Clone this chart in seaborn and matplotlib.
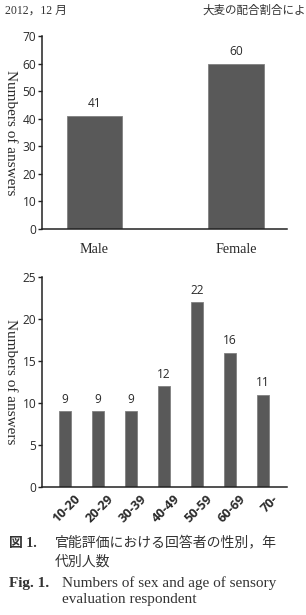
import matplotlib
matplotlib.use("Agg")
import matplotlib.pyplot as plt
import matplotlib.transforms as mtransforms
import seaborn as sns
import pandas as pd

sex_labels = ["Male", "Female"]
sex_counts = [41, 60]
age_labels = ["10-20", "20-29", "30-39", "40-49", "50-59", "60-69", "70-"]
age_counts = [9, 9, 9, 12, 22, 16, 11]

sns.set_style("white")
plt.rcParams['font.family'] = ['Open Sans', 'DejaVu Sans']

BAR = "#595959"
SERIF = ['Liberation Serif', 'DejaVu Serif']
JP = ['Liberation Serif', 'Noto Sans CJK JP']
TXT = "#2a2a2a"

fig = plt.figure(figsize=(3.06, 6.15), dpi=100)

ax1 = fig.add_axes([0.137, 0.6276, 0.801, 0.3138])
ax2 = fig.add_axes([0.137, 0.2081, 0.801, 0.3415])

df1 = pd.DataFrame({"sex": sex_labels, "n": sex_counts})
df2 = pd.DataFrame({"age": age_labels, "n": age_counts})

sns.barplot(data=df1, x="sex", y="n", ax=ax1, color=BAR, width=0.39,
            edgecolor="#808080", linewidth=0.6, saturation=1)
sns.barplot(data=df2, x="age", y="n", ax=ax2, color=BAR, width=0.38,
            edgecolor="#808080", linewidth=0.6, saturation=1)

for ax, ymax, step in [(ax1, 70, 10), (ax2, 25, 5)]:
    ax.set_ylim(0, ymax)
    ax.set_yticks(range(0, ymax + 1, step))
    for s in ["top", "right"]:
        ax.spines[s].set_visible(False)
    for s in ["left", "bottom"]:
        ax.spines[s].set_color("#222222")
        ax.spines[s].set_linewidth(1.1)
    ax.tick_params(axis="y", direction="out", length=3, width=1, color="#222222",
                   labelsize=8.6, pad=1, left=True, labelcolor=TXT)
    ax.tick_params(axis="x", length=0)
    ax.set_xlabel("")
    ax.set_ylabel("Numbers of answers", family=SERIF, fontsize=11,
                  rotation=270, labelpad=0, va="center", color=TXT)
    ax.yaxis.set_label_coords(-0.13, 0.5)
    for c in ax.containers:
        ax.bar_label(c, padding=4, fontsize=8.6, color=TXT)

ax1.set_xlim(-0.37, 1.36)
ax2.set_xlim(-0.7, 6.73)
for lab in ax1.get_xticklabels():
    lab.set_family(SERIF)
    lab.set_fontsize(10.2)
    lab.set_color(TXT)
ax1.tick_params(axis="x", pad=10)
ax2.set_xticks(range(len(age_labels)))
ax2.set_xticklabels(age_labels, rotation=45, ha="right", rotation_mode="anchor",
                    fontsize=9.2, fontweight="bold", color=TXT)
ax2.tick_params(axis="x", pad=4)
shift = mtransforms.ScaledTranslation(9 / 100, 0, fig.dpi_scale_trans)
for lab in ax2.get_xticklabels():
    lab.set_transform(lab.get_transform() + shift)

# header
fig.text(0.017, 0.982, "2012，12 月", family=JP, fontsize=8.5, va="center", color="#333333")
fig.text(0.663, 0.982, "大麦の配合割合によ", family=JP, fontsize=8.3, va="center", color="#333333")

# caption
fig.text(0.03, 1 - 543 / 615, "図 1.", family=JP, fontsize=10, fontweight="bold",
         va="center", color="#333333")
fig.text(0.18, 1 - 543 / 615, "官能評価における回答者の性別，年", family=JP, fontsize=10,
         va="center", color="#333333")
fig.text(0.18, 1 - 562 / 615, "代別人数", family=JP, fontsize=10, va="center", color="#333333")
fig.text(0.03, 1 - 583 / 615, "Fig. 1.", family=SERIF, fontsize=11, fontweight="bold",
         va="center", color="#333333")
fig.text(0.203, 1 - 583 / 615, "Numbers of sex and age of sensory", family=SERIF, fontsize=11,
         va="center", color="#333333")
fig.text(0.203, 1 - 600 / 615, "evaluation respondent", family=SERIF, fontsize=11,
         va="center", color="#333333")

fig.savefig("out.png", dpi=100)
